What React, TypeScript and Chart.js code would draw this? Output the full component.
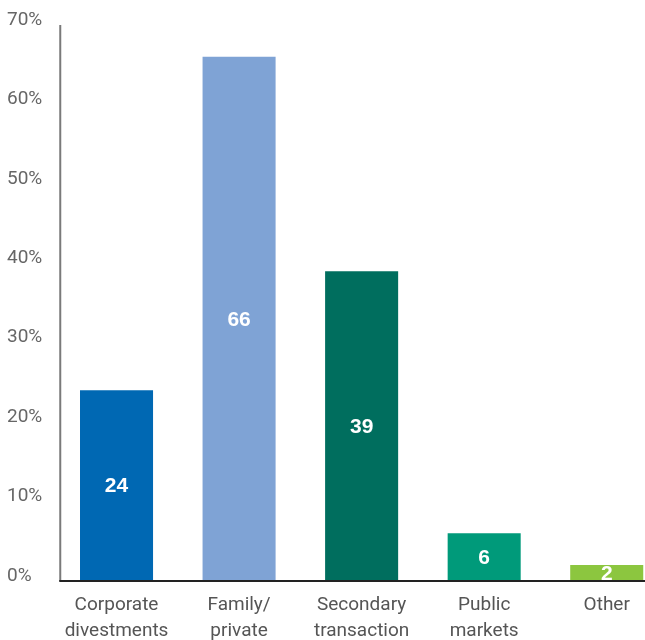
import React, { useEffect, useRef } from "react";
import { Chart, registerables } from "chart.js";

Chart.register(...registerables);

const categories: string[][] = [
  ["Corporate", "divestments"],
  ["Family/", "private"],
  ["Secondary", "transaction"],
  ["Public", "markets"],
  ["Other"],
];
const values: number[] = [24, 66, 39, 6, 2];
const barColors: string[] = ["#0068b3", "#7fa3d5", "#006e5e", "#009a7a", "#8cc63f"];
const yTicks: number[] = [0, 10, 20, 30, 40, 50, 60, 70];

const axisLinesPlugin = {
  id: "axisLines",
  afterDatasetsDraw(chart: any) {
    const { ctx, chartArea, scales } = chart;
    const y = scales.y;
    const x0 = chartArea.left + 5;
    const yTop = y.getPixelForValue(yTicks[yTicks.length - 1]);
    const yZero = y.getPixelForValue(0);
    ctx.save();
    ctx.lineWidth = 2;
    ctx.strokeStyle = "#7a7a7a";
    ctx.beginPath();
    ctx.moveTo(x0, yTop);
    ctx.lineTo(x0, yZero);
    ctx.stroke();
    ctx.strokeStyle = "#222222";
    ctx.beginPath();
    ctx.moveTo(x0 - 1, yZero);
    ctx.lineTo(chart.width, yZero);
    ctx.stroke();
    ctx.restore();
  },
};

const valueLabelPlugin = {
  id: "valueLabels",
  afterDatasetsDraw(chart: any) {
    const { ctx } = chart;
    const meta = chart.getDatasetMeta(0);
    ctx.save();
    ctx.fillStyle = "#ffffff";
    ctx.font = "bold 21px 'Liberation Sans', Arial, sans-serif";
    ctx.textAlign = "center";
    ctx.textBaseline = "middle";
    meta.data.forEach((bar: any, i: number) => {
      const cy = (bar.y + bar.base) / 2;
      ctx.fillText(String(values[i]), bar.x, cy + 1);
    });
    ctx.restore();
  },
};

export default function App() {
  const canvasRef = useRef<HTMLCanvasElement | null>(null);

  useEffect(() => {
    if (!canvasRef.current) return;
    const chart = new Chart(canvasRef.current, {
      type: "bar",
      data: {
        labels: categories,
        datasets: [
          {
            data: values,
            backgroundColor: barColors,
            borderWidth: 0,
            categoryPercentage: 1,
            barPercentage: 0.596,
          },
        ],
      },
      options: {
        responsive: false,
        animation: false,
        devicePixelRatio: 1,
        layout: { padding: { left: 7, top: 25, right: 0, bottom: 0 } },
        plugins: {
          legend: { display: false },
          tooltip: { enabled: false },
        },
        scales: {
          x: {
            offset: true,
            grid: { display: false, drawTicks: false },
            border: { display: false },
            ticks: {
              color: "#555555",
              padding: 11,
              maxRotation: 0,
              autoSkip: false,
              font: { family: "Roboto, 'Liberation Sans', sans-serif", size: 19, weight: "normal", lineHeight: 1.37 },
            },
            afterFit: (scale: any) => {
              scale.height = 59;
            },
          },
          y: {
            min: 0,
            max: 70,
            grid: { display: false, drawTicks: false },
            border: { display: false },
            ticks: {
              stepSize: 10,
              color: "#666666",
              crossAlign: "far",
              labelOffset: -5,
              font: { family: "Roboto, 'Liberation Sans', sans-serif", size: 19, weight: "normal" },
              callback: (v: any) => `${v}%`,
            },
            afterFit: (scale: any) => {
              scale.width = 48.25;
            },
          },
        },
      },
      plugins: [axisLinesPlugin, valueLabelPlugin],
    });
    return () => chart.destroy();
  }, []);

  return (
    <div
      style={{
        position: "fixed",
        left: 0,
        top: 0,
        width: 645,
        height: 640,
        overflow: "hidden",
        background: "#ffffff",
      }}
    >
      <canvas ref={canvasRef} width={668} height={640} style={{ display: "block" }} />
    </div>
  );
}
